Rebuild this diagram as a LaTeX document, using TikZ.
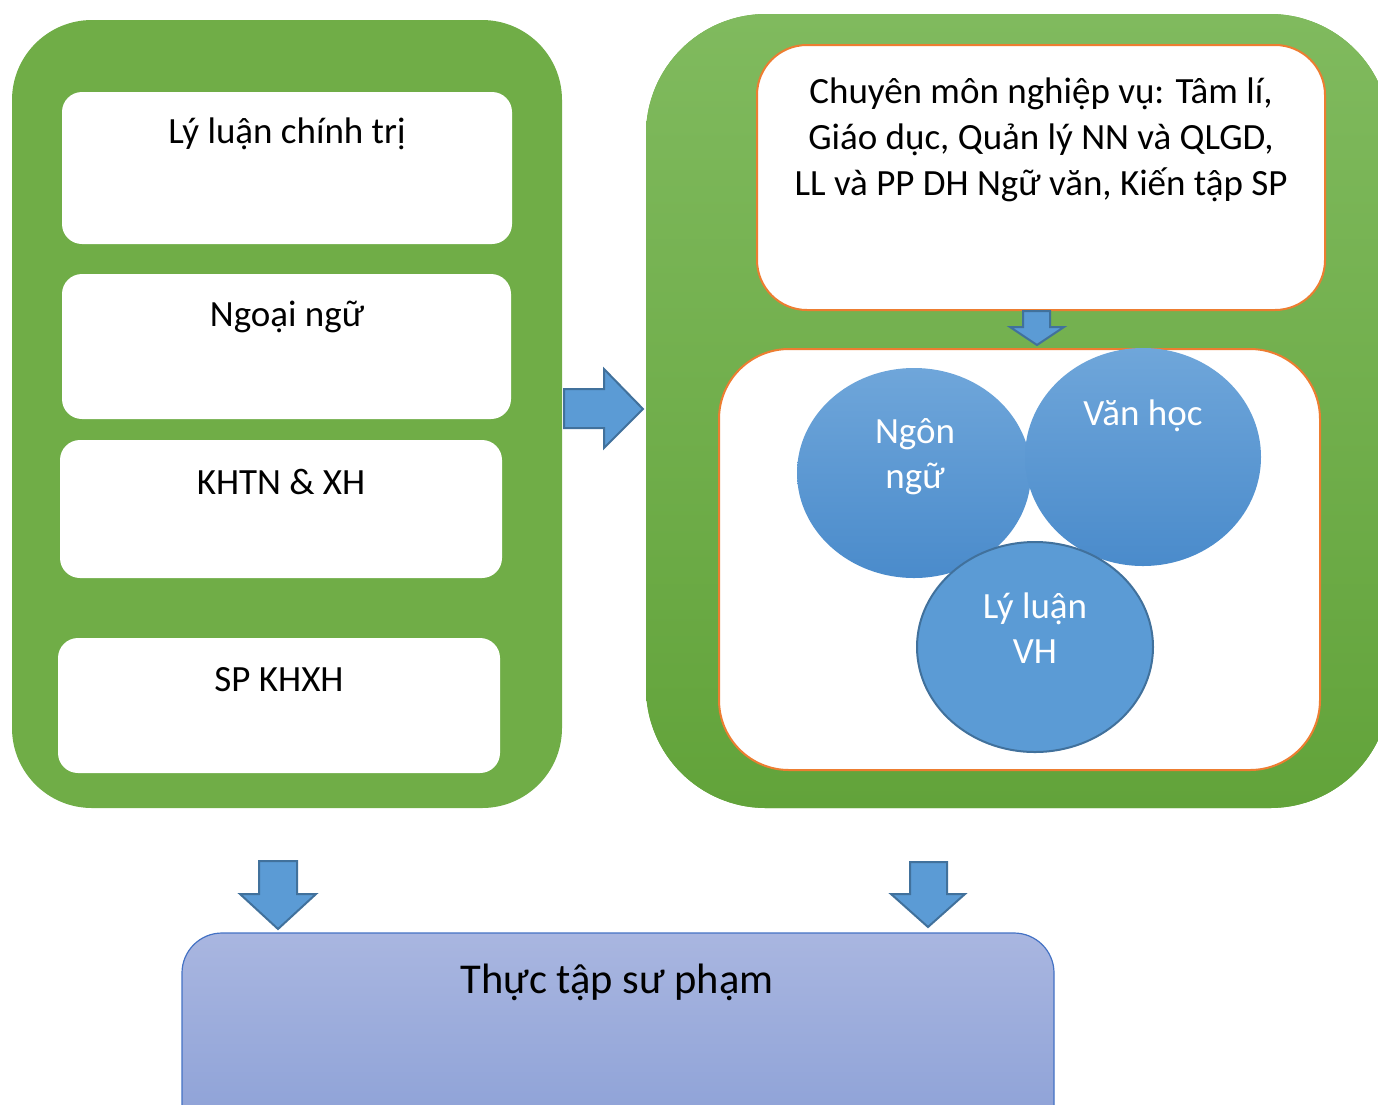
\documentclass[tikz,border=0pt]{standalone}
\usepackage{fontspec}
\setmainfont{Carlito}
\usetikzlibrary{shapes.geometric}
\definecolor{grn}{HTML}{70AD47}
\definecolor{grnT}{HTML}{80BA5E}
\definecolor{grnB}{HTML}{62A33A}
\definecolor{org}{HTML}{ED7D31}
\definecolor{blu}{HTML}{5B9BD5}
\definecolor{bluT}{HTML}{6FA6DA}
\definecolor{bluB}{HTML}{4A8BCB}
\definecolor{bluD}{HTML}{41719C}
\definecolor{perT}{HTML}{A9B6E0}
\definecolor{perB}{HTML}{8A9FD6}
\definecolor{perD}{HTML}{4472C4}
\begin{document}
\begin{tikzpicture}[x=1pt,y=-1pt,
  whitebox/.style={draw=none,fill=white,rounded corners=20pt,inner sep=0pt},
  orgbox/.style={draw=org,line width=2pt,fill=white,inner sep=0pt},
  lbl/.style={font=\fontsize{37}{46}\selectfont,text=black,align=center},
  wlbl/.style={font=\fontsize{37}{45}\selectfont,text=white,align=center},
  blockarrow/.style={fill=blu,draw=bluD,line width=2pt,line join=miter},
  ell/.style={ellipse,inner sep=0pt}
]
\useasboundingbox (0,0) rectangle (1378,1104);
\begin{scope}
\clip (0,0) rectangle (1378,1104);
% left container
\node[fill=grn,rounded corners=80pt,minimum width=550pt,minimum height=788pt,inner sep=0pt] (left) at (287,414) {};
\node[whitebox,minimum width=450pt,minimum height=152pt] (b1) at (287,168) {};
\node[whitebox,minimum width=449pt,minimum height=145pt] (b2) at (286.5,346.5) {};
\node[whitebox,minimum width=442pt,minimum height=138pt] (b3) at (281,509) {};
\node[whitebox,minimum width=442pt,minimum height=135pt] (b4) at (279,705.5) {};
\node[lbl] (t1) at (287,134) {Lý luận chính trị};
\node[lbl] (t2) at (287,317) {Ngoại ngữ};
\node[lbl] (t3) at (281,482) {KHTN \& XH};
\node[lbl] (t4) at (279,680) {SP KHXH};
% right container
\fill[grn,rounded corners=120pt] (646,14) rectangle (1390,808);
\node[top color=grnT,bottom color=grnB,rounded corners=120pt,minimum width=744pt,minimum height=794pt,inner sep=0pt] (right) at (1018,411) {};
\node[orgbox,rounded corners=50pt,minimum width=568pt,minimum height=265pt] (cm) at (1041,177.5) {};
\node[lbl] (cmt) at (1041,140) {Chuyên môn nghiệp vụ: Tâm lí,\\Giáo dục, Quản lý NN và QLGD,\\LL và PP DH Ngữ văn, Kiến tập SP};
\node[orgbox,rounded corners=70pt,minimum width=601pt,minimum height=421pt] (inner) at (1019.5,559.5) {};
% circles
\node[ell,top color=bluT,bottom color=bluB,minimum width=234pt,minimum height=210pt] (nn) at (914,473) {};
\node[ell,top color=bluT,bottom color=bluB,minimum width=236pt,minimum height=218pt] (vh) at (1143,457) {};
\node[ell,fill=blu,draw=bluD,line width=2pt,minimum width=236pt,minimum height=210pt] (ll) at (1035,647) {};
\node[wlbl] (nnt) at (915,457) {Ngôn\\ngữ};
\node[wlbl] (vht) at (1143,416) {Văn học};
\node[wlbl] (llt) at (1035,628) {Lý luận\\VH};
% arrows
\draw[blockarrow] (564,389) -- (604,389) -- (604,369) -- (643,409) -- (604,448) -- (604,428) -- (564,428) -- cycle;
\draw[blockarrow] (1023,311) -- (1050,311) -- (1050,327) -- (1064,327) -- (1037,345) -- (1010,327) -- (1023,327) -- cycle;
\draw[blockarrow] (259,861) -- (297,861) -- (297,894) -- (316,894) -- (278,929) -- (240,894) -- (259,894) -- cycle;
\draw[blockarrow] (910,862) -- (947,862) -- (947,894) -- (965,894) -- (928,927) -- (891,894) -- (910,894) -- cycle;
% bottom box
\node[top color=perT,bottom color=perB,draw=perD,line width=1.2pt,rounded corners=40pt,minimum width=872pt,minimum height=220pt,inner sep=0pt] (tt) at (618,1043) {};
\node[font=\fontsize{42.5}{50}\selectfont] (ttt) at (617,982) {Thực tập sư phạm};
\end{scope}
\end{tikzpicture}
\end{document}
